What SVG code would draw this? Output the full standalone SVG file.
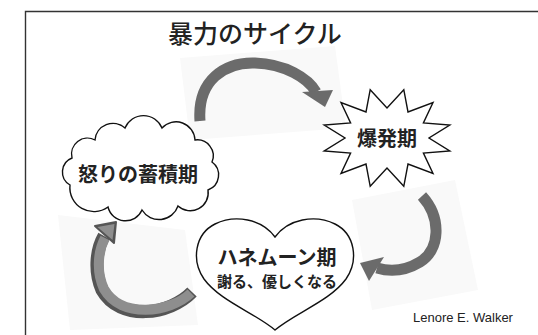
<svg xmlns="http://www.w3.org/2000/svg" width="538" height="335" viewBox="0 0 538 335">
<style>
.shape{fill:#fff;stroke:#111;stroke-width:1.4;stroke-linejoin:miter}
.lbl{font-family:"Noto Sans CJK JP","Noto Sans CJK SC",sans-serif;font-weight:bold;fill:#222;text-anchor:middle}
.shaft{fill:none;stroke:#6b6b6b;stroke-width:11}
.head{fill:#6b6b6b}
.bg{fill:#f9f9f9}
</style>
<rect width="538" height="335" fill="#fff"/>
<g id="frame" fill="none" stroke="#333" stroke-width="1.4">
<path d="M25.5,335 V11.5 H538"/>
</g>
<g id="backdrops">
<polygon class="bg" points="180,58 335,46 346,128 190,140"/>
<polygon class="bg" points="352,200 455,180 478,290 372,310"/>
<polygon class="bg" points="58,215 185,230 198,325 70,330"/>
</g>
<text id="title" x="255" y="43" font-family="'Noto Sans CJK JP','Noto Sans CJK SC',sans-serif" font-size="25" font-weight="500" fill="#222" text-anchor="middle">暴力のサイクル</text>
<g id="connectors">
<g id="arrow-top">
<path class="shaft" d="M200,121 C197,80 225,62 255,63 C285,64 308,78 316,92"/>
<polygon class="head" points="302,92 333,90 325,107"/>
</g>
<g id="arrow-right">
<path class="shaft" d="M422,196 C442,218 440,250 420,262 C405,271 390,272 377,268"/>
<polygon class="head" points="384,257 369,281 360,263"/>
</g>
<g id="arrow-left">
<path d="M192,292 C170,315 120,322 102,290 C94,272 96,250 104,236" fill="none" stroke="#555" stroke-width="13"/>
<polygon points="95,226 116,222 114,243" fill="#555" stroke="#555" stroke-width="2" stroke-linejoin="round"/>
<path d="M191,293 C170,313 121,319 104,289 C96,272 98,251 105,238" fill="none" stroke="#8e8e8e" stroke-width="10"/>
<polygon points="97.5,227 114.5,224 112.5,240" fill="#8e8e8e"/>
</g>
</g>
<g id="node-burst">
<polygon class="shape" points="370.2,89.7 387,108 403.8,89.7 408,112 433,102.6 423.4,123 449.8,125.1 429,138 449.8,150.9 423.4,153 433,173.4 408,164 403.8,186.3 387,168 370.2,186.3 366,164 341,173.4 350.6,153 324.2,150.9 345,138 324.2,125.1 350.6,123 341,102.6 366,112"/>
<text class="lbl" x="387" y="146" font-size="20">爆発期</text>
</g>
<g id="node-cloud">
<path class="shape" d="M70,185 A15,15 0 0 1 72,158 A16,16 0 0 1 95,140 A18,18 0 0 1 125,128 A20,20 0 0 1 162,128 A19,19 0 0 1 195,140 A16,16 0 0 1 212,162 A16,16 0 0 1 208,190 A18,18 0 0 1 178,206 A20,20 0 0 1 142,210 A18,18 0 0 1 108,207 A24,24 0 0 1 70,185 Z"/>
<text class="lbl" x="138" y="182" font-size="20">怒りの蓄積期</text>
</g>
<g id="node-heart">
<path class="shape" d="M275,237 C262,219 235,214 215,224 C195,234 191,260 204,279 C220,301 255,313 275,330 C295,313 330,301 346,279 C359,260 355,234 335,224 C315,214 288,219 275,237 Z"/>
<text class="lbl" x="277" y="265" font-size="20">ハネムーン期</text>
<text class="lbl" x="277" y="287" font-size="15">謝る、優しくなる</text>
</g>
<text id="credit" x="413" y="322" font-family="'Liberation Sans',Arial,sans-serif" font-size="13" fill="#222">Lenore E. Walker</text>
</svg>
